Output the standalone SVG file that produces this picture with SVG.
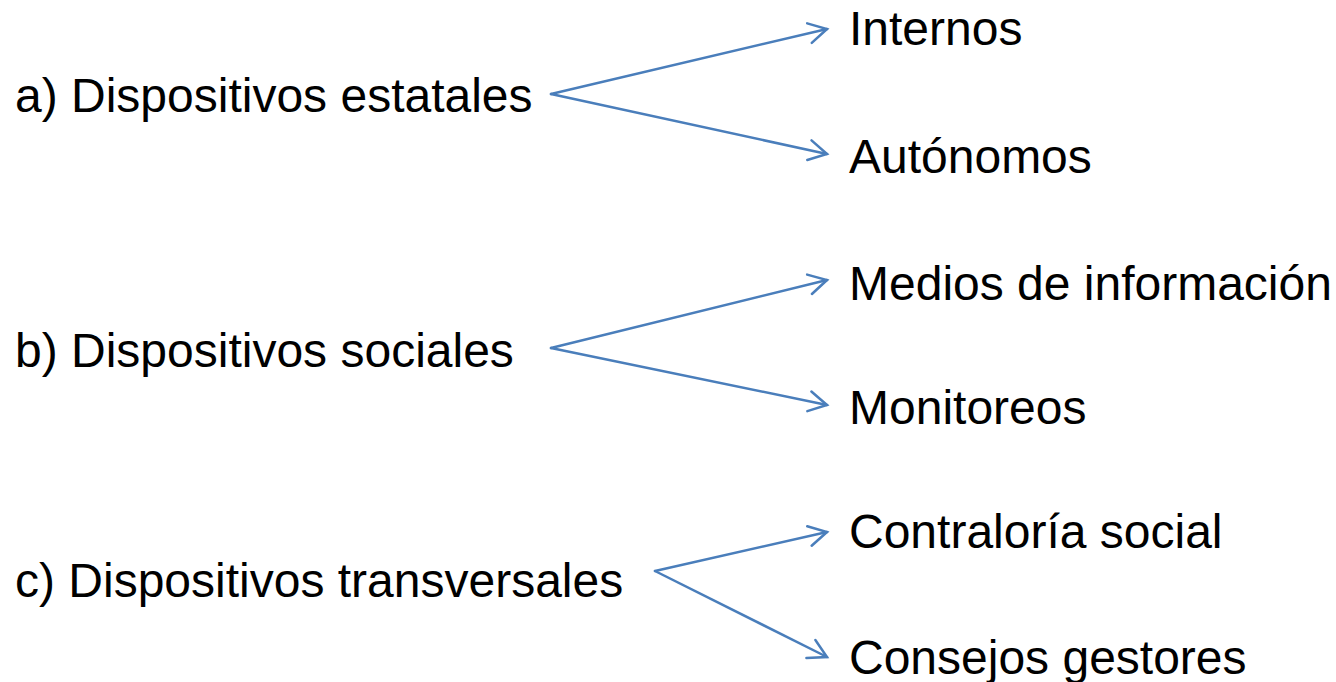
<svg xmlns="http://www.w3.org/2000/svg" width="1336" height="682" viewBox="0 0 1336 682">
  <style>
    text { font-family: "Liberation Sans", Arial, sans-serif; font-size: 48px; fill: #000; }
    .conn { stroke: #4A7EBB; stroke-width: 2.5; fill: none; stroke-linecap: round; marker-end: url(#arrow); }
  </style>
  <defs>
    <marker id="arrow" markerUnits="userSpaceOnUse" viewBox="-22 -13 26 26" markerWidth="26" markerHeight="26" refX="0" refY="0" orient="auto">
      <path d="M -18 -10 L 0 0 L -18 10" fill="none" stroke="#4A7EBB" stroke-width="2.5" stroke-linecap="round" stroke-linejoin="miter"/>
    </marker>
  </defs>
  <rect width="1336" height="682" fill="#fff"/>
  <g id="connectors">
    <path class="conn" d="M 551 94 L 827 29"/>
    <path class="conn" d="M 551 94 L 827 154"/>
    <path class="conn" d="M 551 348 L 827 280"/>
    <path class="conn" d="M 551 348 L 827 405"/>
    <path class="conn" d="M 655 571 L 827 532"/>
    <path class="conn" d="M 655 571 L 827 657"/>
  </g>
  <g id="node-a"><text x="15" y="112">a) Dispositivos estatales</text></g>
  <g id="node-internos"><text x="849" y="45">Internos</text></g>
  <g id="node-autonomos"><text x="849" y="173">Autónomos</text></g>
  <g id="node-b"><text x="15" y="367">b) Dispositivos sociales</text></g>
  <g id="node-medios"><text x="849" y="300">Medios de información</text></g>
  <g id="node-monitoreos"><text x="849" y="424">Monitoreos</text></g>
  <g id="node-c"><text x="15" y="597">c) Dispositivos transversales</text></g>
  <g id="node-contraloria"><text x="849" y="548">Contraloría social</text></g>
  <g id="node-consejos"><text x="849" y="674">Consejos gestores</text></g>
</svg>
